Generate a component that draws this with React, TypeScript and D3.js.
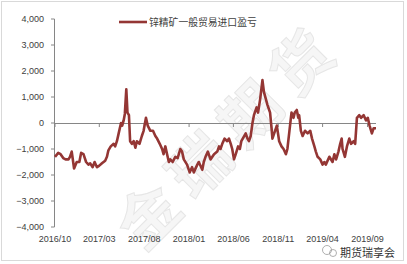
import React from "react";
import * as d3 from "d3";

const W = 407;
const H = 264;

const seriesName = "锌精矿一般贸易进口盈亏";
const yTicks = [4000, 3000, 2000, 1000, 0, -1000, -2000, -3000, -4000];
const xTickLabels = ["2016/10", "2017/03", "2017/08", "2018/01", "2018/06", "2018/11", "2019/04", "2019/09"];

const dates = [
  "2016-10-01","2016-10-12","2016-10-20","2016-10-29","2016-11-06","2016-11-16","2016-11-21","2016-11-27",
  "2016-12-05","2016-12-14","2016-12-23","2016-12-29","2017-01-06","2017-01-15","2017-01-23","2017-01-29",
  "2017-02-06","2017-02-13","2017-02-21","2017-02-28","2017-03-10","2017-03-21","2017-03-27","2017-04-01",
  "2017-04-09","2017-04-19","2017-04-24","2017-04-30","2017-05-06","2017-05-14","2017-05-18","2017-05-23",
  "2017-05-27","2017-06-01","2017-06-05","2017-06-10","2017-06-14","2017-06-20","2017-06-26","2017-07-02",
  "2017-07-07","2017-07-16","2017-07-24","2017-07-30","2017-08-07","2017-08-13","2017-08-22","2017-08-31",
  "2017-09-08","2017-09-14","2017-09-23","2017-10-01","2017-10-06","2017-10-12","2017-10-18","2017-10-24",
  "2017-10-29","2017-11-06","2017-11-15","2017-11-23","2017-12-02","2017-12-08","2017-12-14","2017-12-25",
  "2018-01-03","2018-01-11","2018-01-17","2018-01-29","2018-02-03","2018-02-15","2018-02-20","2018-02-26",
  "2018-03-06","2018-03-15","2018-03-27","2018-04-07","2018-04-13","2018-04-18","2018-04-24","2018-05-02",
  "2018-05-11","2018-05-17","2018-05-23","2018-05-28","2018-06-03","2018-06-09","2018-06-17","2018-06-23",
  "2018-06-28","2018-07-13","2018-07-19","2018-07-24","2018-07-30","2018-08-05","2018-08-10","2018-08-19",
  "2018-08-24","2018-08-31","2018-09-08","2018-09-13","2018-09-25","2018-10-01","2018-10-04","2018-10-09",
  "2018-10-12","2018-10-18","2018-10-27","2018-11-04","2018-11-12","2018-11-19","2018-11-27","2018-12-02",
  "2018-12-09","2018-12-16","2018-12-23","2018-12-27","2019-01-03","2019-01-08","2019-01-11","2019-01-17",
  "2019-01-23","2019-01-31","2019-02-09","2019-02-18","2019-02-24","2019-03-04","2019-03-09","2019-03-15",
  "2019-03-24","2019-04-01","2019-04-07","2019-04-12","2019-04-24","2019-05-05","2019-05-11","2019-05-17",
  "2019-05-25","2019-05-31","2019-06-05","2019-06-08","2019-06-16","2019-06-23","2019-07-01","2019-07-07",
  "2019-07-16","2019-07-21","2019-07-27","2019-08-04","2019-08-10","2019-08-19","2019-08-27","2019-09-02",
  "2019-09-08","2019-09-16","2019-09-22","2019-09-30"
];

const values = [
  -1300,-1150,-1200,-1350,-1400,-1400,-1300,-1100,
  -1750,-1500,-1500,-1150,-1200,-1500,-1600,-1550,
  -1700,-1500,-1700,-1650,-1550,-1450,-1300,-1050,
  -900,-800,-900,-700,-400,0,-100,100,
  350,1300,400,300,-700,-800,-700,-950,
  -700,-800,-500,-300,200,-100,-300,-300,
  -500,-600,-800,-1000,-1200,-900,-1200,-1500,
  -1400,-1500,-1300,-1350,-1000,-1100,-1400,-1600,
  -1900,-1700,-1900,-1600,-1500,-1800,-1500,-1300,
  -1100,-1400,-1200,-1100,-900,-1000,-800,-600,
  -700,-600,-800,-1000,-1400,-1200,-900,-1000,
  -700,-400,-600,-700,-500,0,300,600,
  400,900,1650,1200,700,500,400,-200,
  -600,-400,-100,-700,-900,-1000,-1200,-1000,
  -300,400,200,400,500,200,300,-300,
  -500,-300,-400,-300,-600,-900,-1100,-1300,
  -1400,-1600,-1500,-1600,-1300,-1500,-1200,-1400,
  -1100,-800,-600,-1000,-1300,-900,-600,-800,
  -700,-800,200,300,200,300,100,200,
  -100,-400,-200,-200
];

const parse = d3.timeParse("%Y-%m-%d");
const fmtTick = d3.timeFormat("%Y/%m");

export default function App() {
  const left = 55;
  const right = 376;
  const top = 19;
  const bottom = 227;

  const data = dates.map((d, i) => ({ date: parse(d) as Date, value: values[i] }));

  const x = d3
    .scaleTime()
    .domain([parse("2016-10-01") as Date, parse("2019-09-30") as Date])
    .range([left, right]);
  const y = d3.scaleLinear().domain([-4000, 4000]).range([bottom, top]);

  const line = d3
    .line<{ date: Date; value: number }>()
    .x((d) => x(d.date))
    .y((d) => y(d.value));

  const xTicks = xTickLabels.map((l) => parse(l.replace("/", "-") + "-01") as Date);
  const fmtY = d3.format(",");

  const labelFont = "'Liberation Sans', Arial, sans-serif";
  const cjk = "'Noto Sans CJK SC', sans-serif";

  return (
    <svg
      width={W}
      height={H}
      style={{ position: "absolute", left: 0, top: 0, background: "#fff" }}
    >
      <rect x={1.5} y={1.5} width={W - 5} height={H - 5} fill="#fff" stroke="#d9d9d9" strokeWidth={1} />

      {/* watermark */}
      <text
        x={0}
        y={0}
        transform="translate(226,132) rotate(-45)"
        textAnchor="middle"
        dominantBaseline="central"
        fontFamily={cjk}
        fontSize={60}
        fontWeight={700}
        letterSpacing={12}
        fill="#f6f6f6"
        stroke="#e6e6e6"
        strokeWidth={1}
      >
        金瑞期货
      </text>

      {/* y axis */}
      <line x1={left - 0.5} x2={left - 0.5} y1={top} y2={bottom} stroke="#868686" strokeWidth={1} />
      {yTicks.map((t) => (
        <g key={t}>
          <line x1={left - 4} x2={left - 0.5} y1={y(t)} y2={y(t)} stroke="#868686" strokeWidth={1} />
          <text
            x={left - 11}
            y={y(t)}
            textAnchor="end"
            dominantBaseline="central"
            fontFamily={labelFont}
            fontSize={9}
            fill="#404040"
          >
            {fmtY(t)}
          </text>
        </g>
      ))}

      {/* zero axis with ticks */}
      <line x1={left} x2={right} y1={y(0) + 0.5} y2={y(0) + 0.5} stroke="#868686" strokeWidth={1} />
      {xTicks.map((t, i) => (
        <g key={i}>
          <line x1={x(t)} x2={x(t)} y1={y(0) + 0.5} y2={y(0) + 4} stroke="#868686" strokeWidth={1} />
          <text
            x={x(t)}
            y={239}
            textAnchor="middle"
            dominantBaseline="central"
            fontFamily={labelFont}
            fontSize={9}
            fill="#404040"
          >
            {fmtTick(t)}
          </text>
        </g>
      ))}

      {/* series */}
      <path
        d={line(data) || ""}
        fill="none"
        stroke="#943634"
        strokeWidth={2.6}
        strokeLinejoin="round"
      />

      {/* legend */}
      <line x1={119} x2={147} y1={22} y2={22} stroke="#943634" strokeWidth={2.6} />
      <text
        x={149}
        y={22}
        dominantBaseline="central"
        fontFamily={cjk}
        fontSize={9.8}
        fill="#404040"
      >
        {seriesName}
      </text>

      {/* corner watermark */}
      <g transform="translate(323,251)">
        <circle cx={4} cy={-1} r={4.5} fill="none" stroke="#9a9a9a" strokeWidth={0.8} />
        <circle cx={10} cy={2} r={3.5} fill="none" stroke="#9a9a9a" strokeWidth={0.8} />
      </g>
      <text
        x={340}
        y={252}
        dominantBaseline="central"
        fontFamily={cjk}
        fontSize={11}
        fill="#333"
      >
        期货瑞享会
      </text>
    </svg>
  );
}
